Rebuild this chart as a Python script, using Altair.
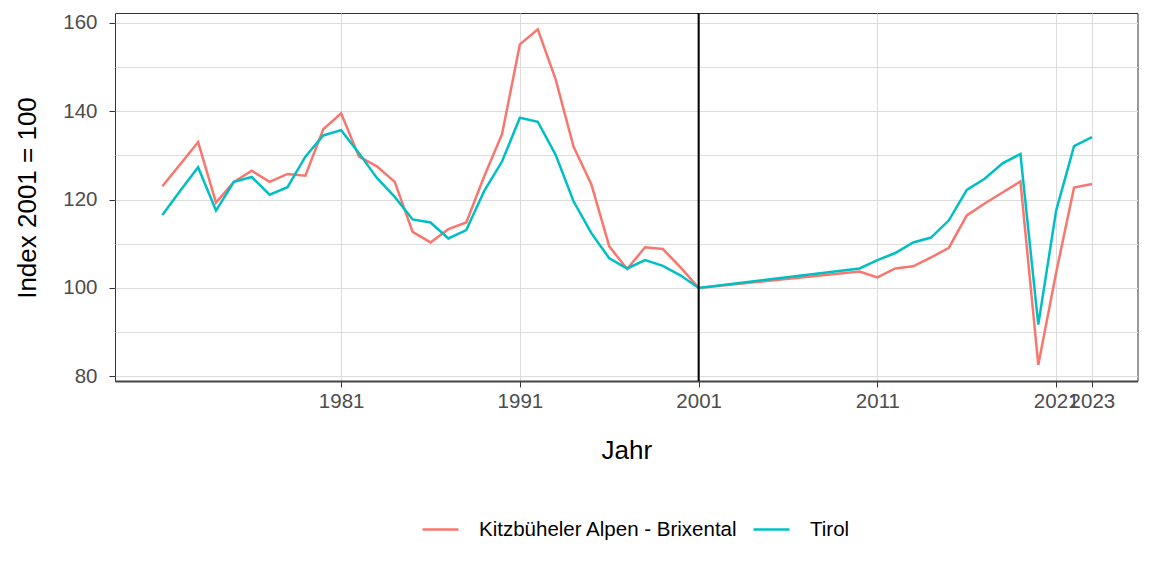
import altair as alt
import pandas as pd

# ---- data ----
years = list(range(1971, 2002)) + list(range(2010, 2024))

kitz = [123.0, 128.0, 133.0, 119.3, 124.0, 126.5, 124.0, 125.8, 125.4, 135.9,
        139.5, 129.7, 127.5, 124.0, 112.7, 110.3, 113.3, 114.8, 125.2, 134.8,
        155.1, 158.5, 147.2, 132.0, 123.4, 109.4, 104.3, 109.2, 108.8, 104.6,
        100.0,
        103.7, 102.4, 104.4, 104.9, 106.9, 109.1, 116.4, 119.1, 121.6, 124.1,
        82.6, 103.5, 122.7, 123.5]

tirol = [116.5, 122.0, 127.3, 117.5, 124.0, 125.1, 121.1, 122.8, 129.7, 134.5,
         135.7, 130.5, 124.9, 120.6, 115.5, 114.8, 111.2, 113.1, 121.9, 128.6,
         138.5, 137.6, 130.1, 119.6, 112.4, 106.7, 104.4, 106.3, 105.0, 102.8,
         100.0,
         104.4, 106.3, 107.9, 110.3, 111.4, 115.3, 122.2, 124.7, 128.2, 130.3,
         91.7, 117.5, 132.1, 134.1]

series_names = ["Kitzbüheler Alpen - Brixental", "Tirol"]
series_colors = ["#F8766D", "#00BFC4"]
x_ticks = [1981, 1991, 2001, 2011, 2021, 2023]
y_grid = [80, 90, 100, 110, 120, 130, 140, 150, 160]
reference_year = [2001]

df = pd.DataFrame({
    "Jahr": years * 2,
    "Index": kitz + tirol,
    "Region": [series_names[0]] * len(years) + [series_names[1]] * len(years),
})
ref_df = pd.DataFrame({"Jahr": reference_year})

FONT = "Liberation Sans"

x_scale = alt.Scale(domain=[1968.35, 2025.55], nice=False, zero=False)
y_scale = alt.Scale(domain=[78.95, 162.2], nice=False, zero=False)

lines = alt.Chart(df).mark_line(strokeWidth=2.5).encode(
    x=alt.X("Jahr:Q", scale=x_scale,
            axis=alt.Axis(values=x_ticks, format="d", title="Jahr",
                          grid=True, gridColor="#dcdcdc", gridWidth=1,
                          domain=True, domainColor="#444444", domainWidth=2,
                          tickColor="#333333", tickSize=6, tickWidth=1,
                          labelFont=FONT, labelFontSize=20.5, labelColor="#4d4d4d",
                          labelPadding=4, labelOverlap=False, labelFlush=False,
                          titleFont=FONT, titleFontSize=26, titleFontWeight="normal",
                          titleColor="#000000", titleBaseline="alphabetic",
                          titleY=77, titleAnchor="middle")),
    y=alt.Y("Index:Q", scale=y_scale,
            axis=alt.Axis(values=y_grid, title="Index 2001 = 100",
                          labelExpr="datum.value % 20 === 0 ? datum.label : ''",
                          grid=True, gridColor="#dcdcdc", gridWidth=1,
                          domain=False,
                          tickColor="#333333", tickSize=6, tickWidth=1,
                          tickOpacity={"condition": {"test": "datum.value % 20 === 0", "value": 1}, "value": 0},
                          labelFont=FONT, labelFontSize=20.5, labelColor="#4d4d4d",
                          labelPadding=12,
                          titleFont=FONT, titleFontSize=26, titleFontWeight="normal",
                          titleColor="#000000", titleAngle=-90,
                          titleBaseline="alphabetic", titleAlign="center",
                          titleX=-80, titleY=184.5)),
    color=alt.Color("Region:N",
                    scale=alt.Scale(domain=series_names, range=series_colors),
                    legend=alt.Legend(title=None, orient="none", direction="horizontal",
                                      legendX=306, legendY=497,
                                      symbolType="stroke", symbolSize=1296,
                                      symbolStrokeWidth=2.5, labelOffset=19,
                                      columnPadding=10, padding=0, labelLimit=0,
                                      labelFont=FONT, labelFontSize=20.5,
                                      labelColor="#000000")),
    order=alt.Order("Jahr:Q"),
)

rule = alt.Chart(ref_df).mark_rule(color="black", strokeWidth=2).encode(
    x=alt.X("Jahr:Q", scale=x_scale),
)

chart = alt.layer(lines, rule).properties(
    width=1022.5, height=368,
    autosize=alt.AutoSizeParams(type="none"),
    padding={"left": 115, "top": 13, "right": 14, "bottom": 195},
    background="white",
).configure_view(stroke="#333333", strokeWidth=1)

chart.save("out.html", embed_options={"renderer": "svg", "actions": False})
